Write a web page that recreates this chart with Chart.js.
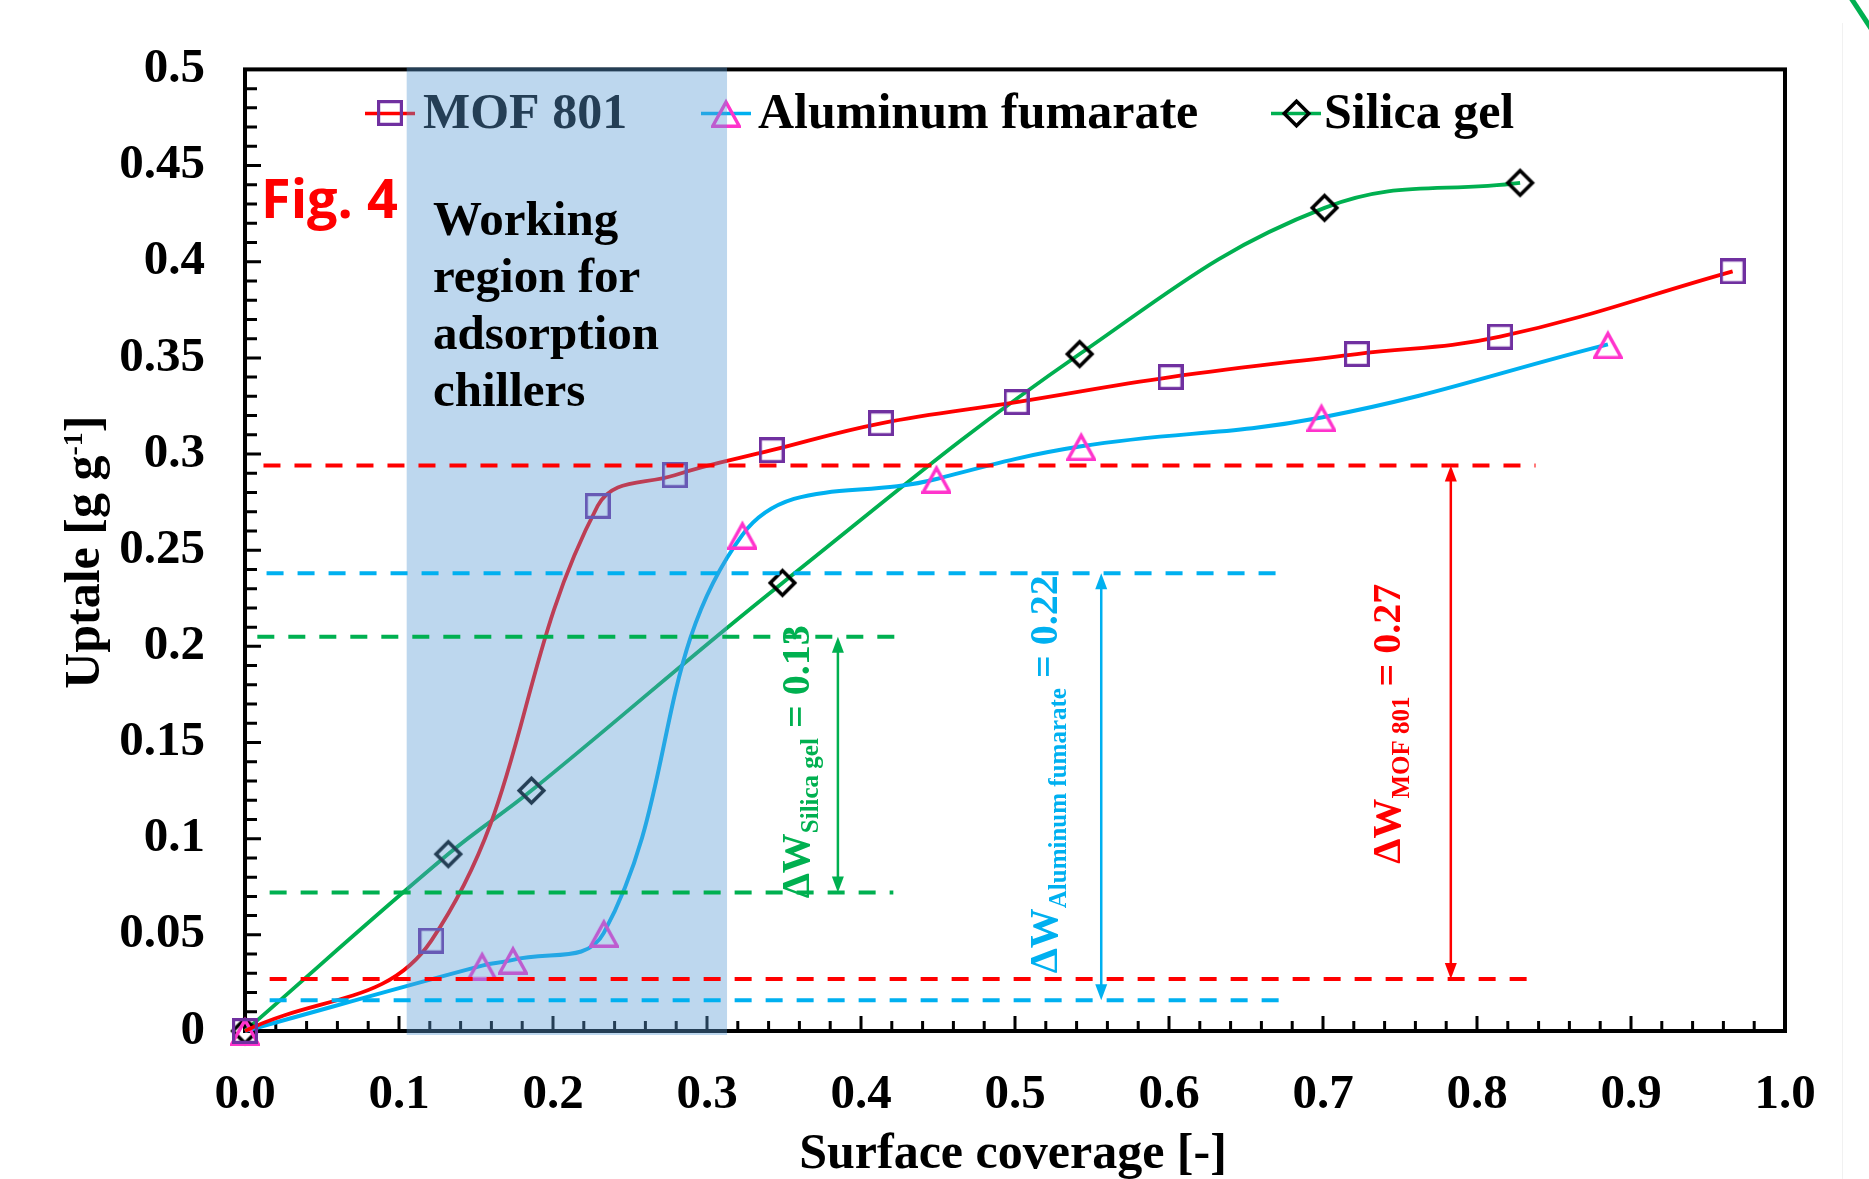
<!DOCTYPE html>
<html>
<head>
<meta charset="utf-8">
<script src="https://cdn.jsdelivr.net/npm/chart.js@4.4.1/dist/chart.umd.min.js"></script>
<style>
  html, body { margin: 0; padding: 0; background: #ffffff; }
  #wrap { position: relative; width: 1869px; height: 1179px; }
</style>
</head>
<body>
<div id="wrap"><canvas id="c" width="1869" height="1179"></canvas></div>
<script>
// ---- data: surface coverage (x) vs. water uptake (y) ----
const seriesNames = ['MOF 801', 'Aluminum fumarate', 'Silica gel'];

const mofCoverage = [0, 0.121, 0.229, 0.279, 0.342, 0.413, 0.501, 0.601, 0.722, 0.815, 0.966];
const mofUptake   = [0, 0.047, 0.273, 0.289, 0.302, 0.316, 0.327, 0.340, 0.352, 0.361, 0.395];

const alfCoverage = [0, 0.154, 0.174, 0.233, 0.323, 0.449, 0.543, 0.699, 0.885];
const alfUptake   = [0, 0.034, 0.037, 0.051, 0.258, 0.287, 0.304, 0.319, 0.357];

const silCoverage = [0, 0.132, 0.186, 0.349, 0.542, 0.701, 0.828];
const silUptake   = [0, 0.092, 0.125, 0.233, 0.352, 0.428, 0.441];

const xTickLabels = ['0.0', '0.1', '0.2', '0.3', '0.4', '0.5', '0.6', '0.7', '0.8', '0.9', '1.0'];
const yTickLabels = ['0', '0.05', '0.1', '0.15', '0.2', '0.25', '0.3', '0.35', '0.4', '0.45', '0.5'];

// working window of the chiller (surface coverage) and uptake levels [low, high]
const workingRegion = [0.105, 0.313];
const mofLevels = [0.027, 0.294];
const alfLevels = [0.016, 0.238];
const silLevels = [0.072, 0.205];
const deltaValues = ['0.27', '0.22', '0.13'];
const regionText = ['Working', 'region for', 'adsorption', 'chillers'];

// ---- styling ----
const SERIF = "'Liberation Serif', 'Times New Roman', serif";
const RED = '#FF0000', BLUE = '#00B0F0', GREEN = '#00B050';

function pts(xs, ys) { return xs.map((x, i) => ({ x: x, y: ys[i] })); }

// hollow marker glyphs (square, triangle, diamond)
function marker(kind, color, size, lw) {
  const c = document.createElement('canvas');
  c.width = size; c.height = size;
  const g = c.getContext('2d');
  g.strokeStyle = color; g.lineWidth = lw; g.lineJoin = 'miter';
  const h = lw / 2;
  g.beginPath();
  if (kind === 'square') {
    g.rect(h, h, size - lw, size - lw);
  } else if (kind === 'triangle') {
    g.moveTo(size / 2, lw * 1.2);
    g.lineTo(size - h, size - h);
    g.lineTo(h, size - h);
    g.closePath();
  } else {
    g.moveTo(size / 2, lw * 0.9);
    g.lineTo(size - lw * 0.9, size / 2);
    g.lineTo(size / 2, size - lw * 0.9);
    g.lineTo(lw * 0.9, size / 2);
    g.closePath();
  }
  g.stroke();
  return c;
}
const sqMark  = marker('square',   '#7030A0', 26, 3.2);
const triMark = marker('triangle', '#FF33CC', 30, 3.4);
const diaMark = marker('diamond',  '#000000', 31, 3.6);

// annotation geometry in axis units
const annotations = [
  { color: RED,   levels: mofLevels, hi: [0.012, 0.838], lo: [0.016, 0.840], arrowX: 0.783,
    labelX: 0.750, labelY: 0.087, sub: seriesNames[0], value: deltaValues[0] },
  { color: BLUE,  levels: alfLevels, hi: [0.014, 0.677], lo: [0.016, 0.677], arrowX: 0.556,
    labelX: 0.527, labelY: 0.030, sub: seriesNames[1], value: deltaValues[1] },
  { color: GREEN, levels: silLevels, hi: [0.008, 0.424], lo: [0.016, 0.421], arrowX: 0.385,
    labelX: 0.366, labelY: 0.069, sub: seriesNames[2], value: deltaValues[2] }
];

function rotatedParts(ctx, parts, bx, by, color) {
  ctx.save();
  ctx.translate(bx, by);
  ctx.rotate(-Math.PI / 2);
  ctx.fillStyle = color;
  ctx.textBaseline = 'alphabetic';
  ctx.textAlign = 'left';
  let cx = 0;
  for (const p of parts) {
    ctx.font = 'bold ' + p.size + 'px ' + SERIF;
    ctx.fillText(p.text, cx, p.shift || 0);
    cx += ctx.measureText(p.text).width;
  }
  ctx.restore();
}

function arrowHead(ctx, x, y, dir) {
  // dir = -1 points up, +1 points down
  ctx.beginPath();
  ctx.moveTo(x, y);
  ctx.lineTo(x - 6, y - dir * 16);
  ctx.lineTo(x + 6, y - dir * 16);
  ctx.closePath();
  ctx.fill();
}

// plot frame with inward ticks
const framePlugin = {
  id: 'frame',
  beforeDatasetsDraw(chart) {
    const { ctx, chartArea: a, scales: { x, y } } = chart;
    ctx.save();
    ctx.strokeStyle = '#000';
    ctx.lineWidth = 3;
    ctx.beginPath();
    for (let i = 0; i <= 50; i++) {
      const py = y.getPixelForValue(i * 0.01);
      const len = i % 5 === 0 ? 16 : 12;
      ctx.moveTo(a.left, py); ctx.lineTo(a.left + len, py);
    }
    for (let i = 0; i <= 50; i++) {
      const px = x.getPixelForValue(i * 0.02);
      const len = i % 5 === 0 ? 15 : 10;
      ctx.moveTo(px, a.bottom); ctx.lineTo(px, a.bottom - len);
    }
    ctx.stroke();
    ctx.lineWidth = 4;
    ctx.strokeRect(a.left, a.top, a.right - a.left, a.bottom - a.top);
    ctx.restore();
  }
};

// legend, shaded working window and capacity annotations
const overlayPlugin = {
  id: 'overlay',
  afterDatasetsDraw(chart) {
    const { ctx, chartArea: a, scales: { x, y } } = chart;
    ctx.save();

    // legend row
    const legend = [
      { name: seriesNames[0], color: RED,   mark: sqMark,  cx: 145,  tx: 178 },
      { name: seriesNames[1], color: BLUE,  mark: triMark, cx: 481,  tx: 513 },
      { name: seriesNames[2], color: GREEN, mark: diaMark, cx: 1051, tx: 1079 }
    ];
    const ly = a.top + 44;
    for (const it of legend) {
      const cx = a.left + it.cx;
      ctx.strokeStyle = it.color; ctx.lineWidth = 3.5;
      ctx.beginPath(); ctx.moveTo(cx - 25, ly); ctx.lineTo(cx + 25, ly); ctx.stroke();
      ctx.drawImage(it.mark, Math.round(cx - it.mark.width / 2), Math.round(ly - it.mark.height / 2));
      ctx.fillStyle = '#000';
      ctx.font = 'bold 50px ' + SERIF;
      ctx.textBaseline = 'alphabetic'; ctx.textAlign = 'left';
      ctx.fillText(it.name, a.left + it.tx, a.top + 59);
    }

    // shaded working window
    const x0 = x.getPixelForValue(workingRegion[0]);
    const x1 = x.getPixelForValue(workingRegion[1]);
    ctx.fillStyle = 'rgba(91,155,213,0.4)';
    ctx.fillRect(x0, a.top - 2, x1 - x0, a.bottom - a.top + 6);

    ctx.fillStyle = '#000';
    ctx.font = 'bold 49px ' + SERIF;
    regionText.forEach((t, i) => ctx.fillText(t, a.left + 188, a.top + 166 + i * 57));

    // capacity levels, arrows and labels
    for (const an of annotations) {
      const yl = y.getPixelForValue(an.levels[0]);
      const yh = y.getPixelForValue(an.levels[1]);
      ctx.strokeStyle = an.color; ctx.fillStyle = an.color;
      ctx.lineWidth = 4;
      ctx.setLineDash([17, 14]);
      ctx.beginPath();
      ctx.moveTo(x.getPixelForValue(an.hi[0]), yh); ctx.lineTo(x.getPixelForValue(an.hi[1]), yh);
      ctx.moveTo(x.getPixelForValue(an.lo[0]), yl); ctx.lineTo(x.getPixelForValue(an.lo[1]), yl);
      ctx.stroke();
      ctx.setLineDash([]);
      const ax = x.getPixelForValue(an.arrowX);
      ctx.lineWidth = 2.5;
      ctx.beginPath(); ctx.moveTo(ax, yh + 12); ctx.lineTo(ax, yl - 12); ctx.stroke();
      arrowHead(ctx, ax, yh, -1);
      arrowHead(ctx, ax, yl, 1);
      rotatedParts(ctx, [
        { text: '\u0394W', size: 40 },
        { text: an.sub, size: 25, shift: 9 },
        { text: ' =', size: 40 },
        { text: ' ' + an.value, size: 40 }
      ], x.getPixelForValue(an.labelX), y.getPixelForValue(an.labelY), an.color);
    }

    // figure tag
    ctx.fillStyle = '#FF0000';
    ctx.font = "bold 54px 'Open Sans', 'Noto Sans', sans-serif";
    ctx.fillText('Fig. 4', a.left + 16, a.top + 149);
    ctx.restore();
  },
  afterDraw(chart) {
    const { ctx, chartArea: a } = chart;
    ctx.save();
    ctx.fillStyle = '#000';
    ctx.textBaseline = 'alphabetic';
    // x-axis title
    ctx.font = 'bold 50px ' + SERIF;
    ctx.textAlign = 'center';
    ctx.fillText('Surface coverage [-]', (a.left + a.right) / 2 - 2, 1168);
    // y-axis title with superscript
    const parts = [
      { text: 'Uptale [g g', size: 50 },
      { text: '-1', size: 28, shift: -17 },
      { text: ']', size: 50 }
    ];
    let total = 0;
    for (const p of parts) { ctx.font = 'bold ' + p.size + 'px ' + SERIF; total += ctx.measureText(p.text).width; }
    rotatedParts(ctx, parts, 99, (a.top + a.bottom) / 2 + 2 + total / 2, '#000');
    // page edge decorations
    ctx.strokeStyle = '#f1f1f1'; ctx.lineWidth = 1;
    ctx.beginPath(); ctx.moveTo(1842.5, 23); ctx.lineTo(1842.5, 1179); ctx.stroke();
    ctx.strokeStyle = GREEN; ctx.lineWidth = 5;
    ctx.beginPath(); ctx.moveTo(1851, -2); ctx.lineTo(1872, 30); ctx.stroke();
    ctx.restore();
  }
};

const tickFont = { family: SERIF, size: 49, weight: 'bold' };

new Chart(document.getElementById('c').getContext('2d'), {
  type: 'scatter',
  data: {
    datasets: [
      { label: seriesNames[0], data: pts(mofCoverage, mofUptake), showLine: true,
        borderColor: RED, borderWidth: 3.8, tension: 0.4,
        pointStyle: sqMark, pointRadius: 13, pointHoverRadius: 13, clip: false },
      { label: seriesNames[1], data: pts(alfCoverage, alfUptake), showLine: true,
        borderColor: BLUE, borderWidth: 4, tension: 0.4,
        pointStyle: triMark, pointRadius: 13, pointHoverRadius: 13, clip: false },
      { label: seriesNames[2], data: pts(silCoverage, silUptake), showLine: true,
        borderColor: GREEN, borderWidth: 3.8, tension: 0.4,
        pointStyle: diaMark, pointRadius: 13, pointHoverRadius: 13, clip: false }
    ]
  },
  options: {
    responsive: false,
    animation: false,
    devicePixelRatio: 1,
    layout: { padding: { left: 0, top: 61, right: 84, bottom: 0 } },
    plugins: { legend: { display: false }, tooltip: { enabled: false } },
    scales: {
      x: {
        type: 'linear', min: 0, max: 1,
        grid: { display: false, drawTicks: false },
        border: { display: false },
        ticks: { stepSize: 0.1, padding: 35, color: '#000', font: tickFont, maxRotation: 0, autoSkip: false,
                 callback: v => xTickLabels[Math.round(v * 10)] },
        afterFit: s => { s.height = 148; }
      },
      y: {
        type: 'linear', min: 0, max: 0.5,
        grid: { display: false, drawTicks: false },
        border: { display: false },
        ticks: { stepSize: 0.05, padding: 40, color: '#000', font: tickFont, autoSkip: false,
                 callback: v => yTickLabels[Math.round(v / 0.05)] },
        afterFit: s => { s.width = 245; }
      }
    }
  },
  plugins: [framePlugin, overlayPlugin]
});
</script>
</body>
</html>
